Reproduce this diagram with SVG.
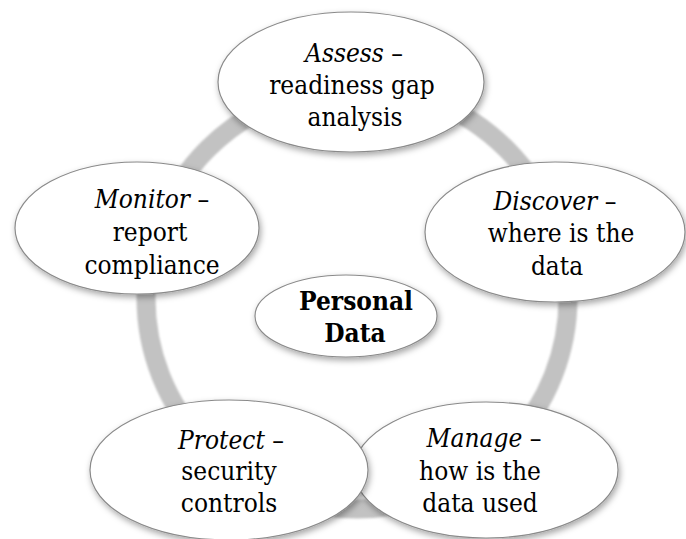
<svg xmlns="http://www.w3.org/2000/svg" width="686" height="539" viewBox="0 0 686 539">
<defs>
<filter id="sh" x="-20%" y="-20%" width="140%" height="150%">
<feDropShadow dx="1.5" dy="3" stdDeviation="3" flood-color="#000" flood-opacity="0.35"/>
</filter>
<filter id="rs" x="-10%" y="-10%" width="120%" height="120%">
<feGaussianBlur stdDeviation="0.8"/>
</filter>
<style>
.node ellipse{fill:#fff;stroke:#8a8a8a;stroke-width:1.2;filter:url(#sh)}
text{font-family:'DejaVu Serif Condensed','DejaVu Serif',serif;font-stretch:condensed;font-size:26px;fill:#000;text-anchor:middle}
.i{font-style:italic}
.b{font-weight:bold}
</style>
</defs>
<rect width="686" height="539" fill="#fff"/>
<g id="connectors">
<circle cx="357" cy="298" r="211" fill="none" stroke="#c2c2c2" stroke-width="19" filter="url(#rs)"/>
</g>
<g id="assess" class="node">
<ellipse cx="351" cy="82" rx="133" ry="70"/>
<text><tspan x="354" y="62"><tspan class="i">Assess</tspan> –</tspan><tspan x="352" y="94">readiness gap</tspan><tspan x="355" y="126">analysis</tspan></text>
</g>
<g id="discover" class="node">
<ellipse cx="555" cy="232" rx="130" ry="70"/>
<text><tspan x="555" y="210"><tspan class="i">Discover</tspan> –</tspan><tspan x="561" y="242">where is the</tspan><tspan x="557" y="275">data</tspan></text>
</g>
<g id="manage" class="node">
<ellipse cx="486" cy="470" rx="132" ry="68"/>
<text><tspan x="484" y="447"><tspan class="i">Manage</tspan> –</tspan><tspan x="480" y="480">how is the</tspan><tspan x="480" y="512">data used</tspan></text>
</g>
<g id="protect" class="node">
<ellipse cx="229" cy="470" rx="139" ry="70"/>
<text><tspan x="231" y="449"><tspan class="i">Protect</tspan> –</tspan><tspan x="229" y="480">security</tspan><tspan x="229" y="512">controls</tspan></text>
</g>
<g id="monitor" class="node">
<ellipse cx="137" cy="228" rx="122" ry="66"/>
<text><tspan x="152" y="208"><tspan class="i">Monitor</tspan> –</tspan><tspan x="150" y="241">report</tspan><tspan x="152" y="274">compliance</tspan></text>
</g>
<g id="center" class="node">
<ellipse cx="346" cy="316" rx="91" ry="41"/>
<text class="b"><tspan x="356" y="310">Personal</tspan><tspan x="355" y="342">Data</tspan></text>
</g>
</svg>
